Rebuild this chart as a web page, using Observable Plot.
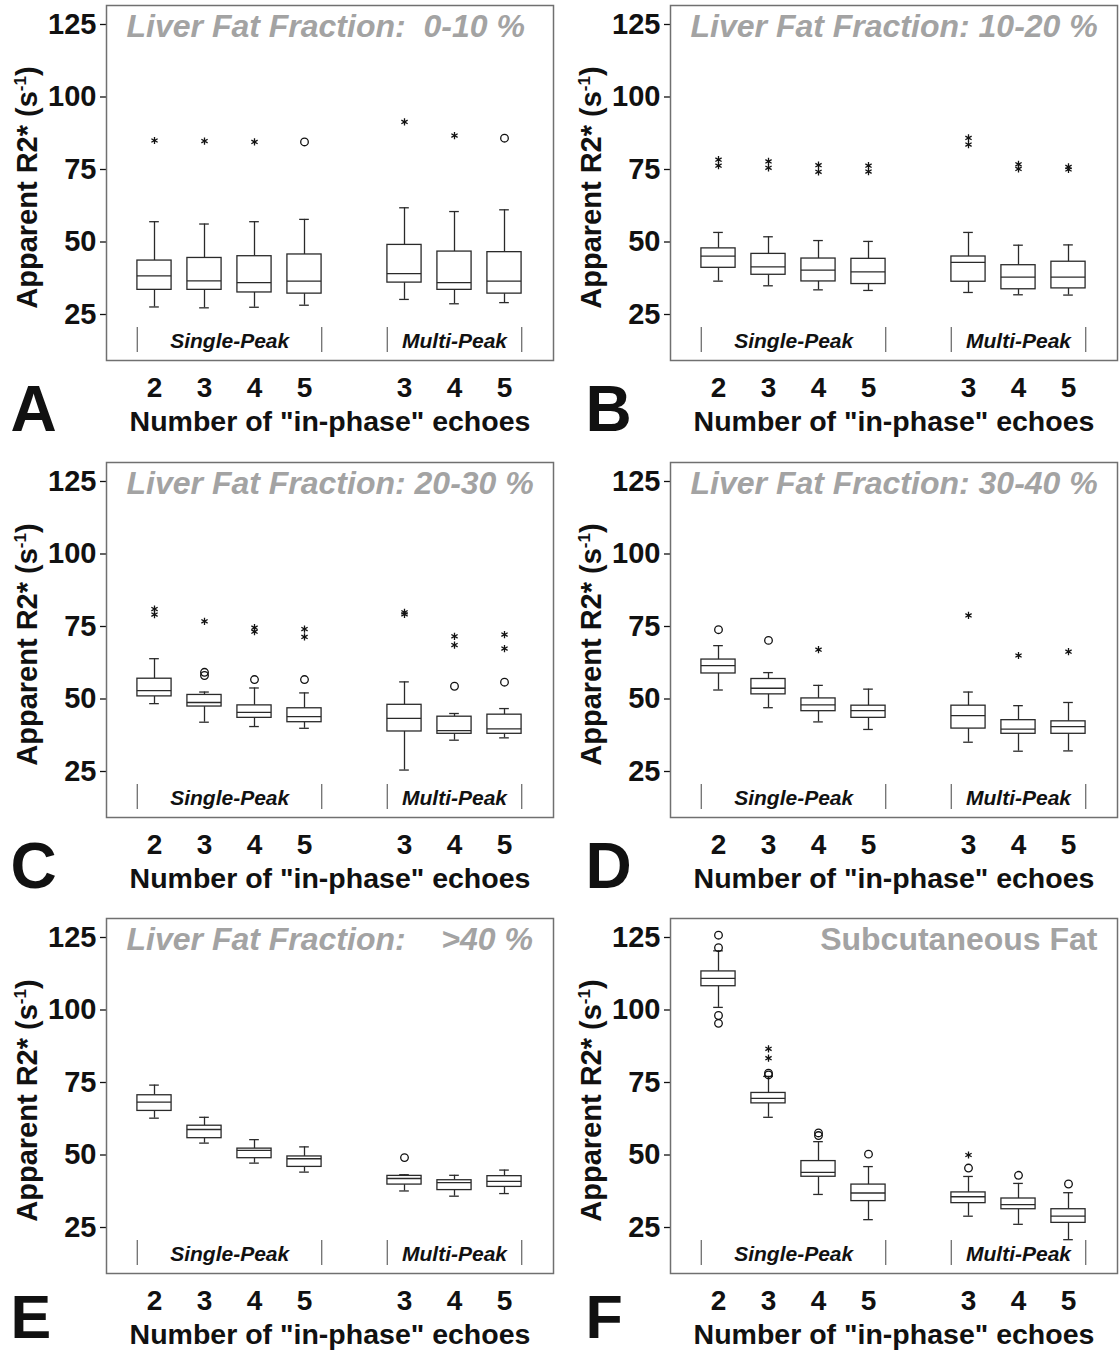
<!DOCTYPE html>
<html><head><meta charset="utf-8">
<script src="https://cdn.jsdelivr.net/npm/d3@7"></script>
<script src="https://cdn.jsdelivr.net/npm/@observablehq/plot@0.6"></script>
<style>
html,body{margin:0;padding:0;background:#fff;overflow:hidden;}
#root{position:relative;width:1120px;height:1353px;background:#fff;}
.panel{position:absolute;}
svg text{white-space:pre;}
</style></head><body><div id="root"></div>
<script>
// ---- categories & labels ----
const groups = ["SP2","SP3","SP4","SP5","gap","MP3","MP4","MP5"];
const boxGroups = ["SP2","SP3","SP4","SP5","MP3","MP4","MP5"];
const tickLabels = ["2","3","4","5","3","4","5"];
const peakNames = ["Single-Peak","Multi-Peak"];
const peakMembers = [["SP2","SP3","SP4","SP5"],["MP3","MP4","MP5"]];
const yTicks = [25,50,75,100,125];
const panelLetters = ["A","B","C","D","E","F"];
const panelTitles = ["Liver Fat Fraction:  0-10 %","Liver Fat Fraction: 10-20 %","Liver Fat Fraction: 20-30 %","Liver Fat Fraction: 30-40 %","Liver Fat Fraction:    >40 %","Subcutaneous Fat"];
const xLabel = "Number of \"in-phase\" echoes";
const yLabel = "Apparent R2* (s";
const yLabelSup = "-1";

// ---- box statistics: [lower whisker, Q1, median, Q3, upper whisker] per boxGroup ----
const boxA = [[27.6,33.5,38.3,43.6,57.0],[27.3,33.5,36.6,44.5,56.2],[27.5,32.6,36.0,45.1,57.0],[28.2,32.2,36.5,45.7,57.8],[30.2,36.0,39.1,49.0,61.8],[28.7,33.5,36.0,46.7,60.5],[29.1,32.2,36.5,46.5,61.1]];
const starsA = [["SP2",85.0],["SP3",84.8],["SP4",84.5],["MP3",91.4],["MP4",86.7]];
const circlesA = [["SP5",84.5],["MP5",85.8]];

const boxB = [[36.5,41.1,45.1,47.8,53.3],[34.9,38.7,41.4,45.9,51.8],[33.5,36.4,40.3,44.3,50.5],[33.3,35.5,39.7,44.2,50.2],[32.6,36.3,43.0,45.0,53.3],[31.8,33.7,37.9,42.0,48.9],[31.7,34.0,37.9,43.2,49.0]];
const starsB = [["SP2",78.4],["SP2",76.3],["SP3",77.8],["SP3",75.6],["SP4",76.5],["SP4",74.2],["SP5",76.3],["SP5",74.3],["MP3",85.9],["MP3",83.6],["MP4",76.8],["MP4",75.2],["MP5",75.9],["MP5",75.0]];
const circlesB = [];

const boxC = [[48.4,50.9,52.9,57.0,63.9],[42.0,47.4,48.8,51.4,52.4],[40.5,43.5,45.4,47.8,53.8],[39.9,42.0,43.9,46.8,52.1],[25.5,38.8,43.3,48.0,55.9],[35.8,38.0,39.1,43.9,45.0],[36.6,38.0,39.7,44.6,46.7]];
const starsC = [["SP2",81.0],["SP2",79.1],["SP3",76.8],["SP4",74.6],["SP4",73.2],["SP5",74.1],["SP5",71.4],["MP3",79.9],["MP3",79.2],["MP4",71.6],["MP4",68.6],["MP5",72.2],["MP5",67.4]];
const circlesC = [["SP3",59.2],["SP3",58.1],["SP4",56.7],["SP5",56.7],["MP4",54.4],["MP5",55.8]];

const boxD = [[53.1,58.8,61.5,63.6,68.4],[47.0,51.6,53.7,56.9,59.1],[42.1,45.8,48.0,50.2,54.7],[39.5,43.5,46.0,47.7,53.4],[35.1,39.8,44.3,47.7,52.4],[32.0,38.0,39.6,42.7,47.7],[32.1,38.0,40.5,42.3,48.8]];
const starsD = [["SP4",67.0],["MP3",78.8],["MP4",65.0],["MP5",66.3]];
const circlesD = [["SP2",73.9],["SP3",70.2]];

const boxE = [[62.7,65.2,68.2,70.6,74.1],[54.1,55.8,58.8,60.1,63.0],[47.2,48.9,51.6,52.2,55.3],[44.1,45.9,48.7,49.5,52.8],[37.6,39.8,41.9,42.8,43.2],[35.8,37.9,40.5,41.3,43.0],[36.7,39.0,40.9,42.7,44.8]];
const starsE = [];
const circlesE = [["MP3",49.1]];

const boxF = [[100.9,108.2,110.9,113.3,120.4],[63.0,67.8,69.5,71.4,77.1],[36.4,42.5,44.0,47.9,54.6],[27.7,34.1,36.9,39.8,46.0],[28.9,33.4,35.6,37.1,42.6],[26.1,31.3,32.9,35.0,40.2],[20.8,26.6,28.9,31.3,37.0]];
const starsF = [["SP3",86.6],["SP3",83.4],["MP3",50.0]];
const circlesF = [["SP2",125.8],["SP2",121.5],["SP2",98.1],["SP2",95.4],["SP3",78.2],["SP3",77.6],["SP4",57.6],["SP4",56.7],["SP5",50.3],["MP3",45.5],["MP4",43.0],["MP5",40.0]];

const panelBoxes = [boxA, boxB, boxC, boxD, boxE, boxF];
const panelStars = [starsA, starsB, starsC, starsD, starsE, starsF];
const panelCircles = [circlesA, circlesB, circlesC, circlesD, circlesE, circlesF];

// ---- drawing ----
const FONT = "'Liberation Sans', Arial, Helvetica, sans-serif";
const INK = "#111";
const BOX = "#2a2a2a";
const GRAYTXT = "#a3a3a3";
const root = document.getElementById("root");

function drawPanel(i) {
  const col = i % 2, row = Math.floor(i / 2);
  const top = Math.round(row * 456.5);
  const W = 560, H = row === 2 ? 1353 - top : 457;
  const mL = col ? 110 : 106, mR = col ? 3 : 7, mT = 5, frameH = 355;
  const mB = H - mT - frameH;
  const padOuter = 0.44;
  const step = (W - mL - mR) / (groups.length + 2 * padOuter);
  const boxW = 34.5, capW = 10;
  const boxInset = (step - boxW) / 2, capInset = (step - capW) / 2;

  const stats = boxGroups.map((g, k) => {
    const [lo, q1, med, q3, hi] = panelBoxes[i][k];
    return {g, lo, q1, med, q3, hi};
  });
  const stars = panelStars[i].map(([g, v]) => ({g, v}));
  const circles = panelCircles[i].map(([g, v]) => ({g, v}));
  const firsts = peakMembers.map(m => m[0]);
  const lasts = peakMembers.map(m => m[m.length - 1]);
  const evenLabels = [], oddLabels = [];
  peakMembers.forEach((m, k) => {
    const mid = (m.length - 1) / 2;
    if (Number.isInteger(mid)) oddLabels.push({g: m[mid], t: peakNames[k]});
    else evenLabels.push({g: m[Math.floor(mid)], t: peakNames[k]});
  });
  const isLiver = i < 5;
  const lastRow = row === 2;
  const groupText = {frameAnchor: "bottom", lineAnchor: "middle", dy: -19.5, fontSize: 21, fontWeight: "bold", fontStyle: "italic", fill: INK};

  const svg = Plot.plot({
    width: W, height: H,
    marginLeft: mL, marginRight: mR, marginTop: mT, marginBottom: mB,
    style: {fontFamily: FONT, background: "white", color: INK, overflow: "visible"},
    x: {type: "band", domain: groups, paddingInner: 0, paddingOuter: padOuter, align: 0.49},
    y: {type: "linear", domain: [9.14, 131.55]},
    marks: [
      Plot.axisY({ticks: yTicks, tickSize: 6, tickPadding: 4, fontSize: 29, fontWeight: "bold", label: null, strokeWidth: 1.3}),
      Plot.axisX({ticks: boxGroups, tickSize: 0, tickPadding: 17, fontSize: 28, fontWeight: "bold", label: null,
        tickFormat: d => tickLabels[boxGroups.indexOf(d)]}),
      // group brackets & labels
      Plot.ruleX(firsts, {x: d => d, dx: -boxW / 2, insetTop: 322, insetBottom: 8, stroke: "#555", strokeWidth: 1.1}),
      Plot.ruleX(lasts, {x: d => d, dx: boxW / 2, insetTop: 322, insetBottom: 8, stroke: "#555", strokeWidth: 1.1}),
      Plot.text(evenLabels, {x: "g", text: "t", dx: step / 2, ...groupText}),
      Plot.text(oddLabels, {x: "g", text: "t", ...groupText}),
      // whiskers
      Plot.ruleX(stats, {x: "g", y1: "lo", y2: "q1", stroke: BOX, strokeWidth: 1.3}),
      Plot.ruleX(stats, {x: "g", y1: "q3", y2: "hi", stroke: BOX, strokeWidth: 1.3}),
      Plot.tickY(stats, {x: "g", y: "lo", insetLeft: capInset, insetRight: capInset, stroke: BOX, strokeWidth: 1.3}),
      Plot.tickY(stats, {x: "g", y: "hi", insetLeft: capInset, insetRight: capInset, stroke: BOX, strokeWidth: 1.3}),
      // boxes
      Plot.barY(stats, {x: "g", y1: "q1", y2: "q3", fill: "white", stroke: BOX, strokeWidth: 1.3, insetLeft: boxInset, insetRight: boxInset}),
      Plot.tickY(stats, {x: "g", y: "med", insetLeft: boxInset, insetRight: boxInset, stroke: BOX, strokeWidth: 1.3}),
      // outliers (o) and extremes (*)
      Plot.dot(circles, {x: "g", y: "v", r: 3.8, stroke: INK, fill: "none", strokeWidth: 1.3}),
      Plot.dot(stars, {x: "g", y: "v", symbol: "asterisk", r: 3.4, stroke: INK, fill: "none", strokeWidth: 1.3}),
      // frame
      Plot.frame({stroke: "#707070", strokeWidth: 1.5}),
      // title
      isLiver
        ? Plot.text([panelTitles[i]], {text: d => d, frameAnchor: "top-left", lineAnchor: "middle", textAnchor: "start", dx: 20, dy: 21, fontSize: 32, fontWeight: "bold", fontStyle: "italic", fill: GRAYTXT})
        : Plot.text([panelTitles[i]], {text: d => d, frameAnchor: "top-right", lineAnchor: "middle", textAnchor: "end", dx: -20, dy: 21, fontSize: 32, fontWeight: "bold", fill: GRAYTXT}),
      // x label and panel letter
      Plot.text([xLabel], {text: d => d, frameAnchor: "bottom", lineAnchor: "middle", dy: 61, fontSize: 28.5, fontWeight: "bold", fill: INK}),
      Plot.text([panelLetters[i]], {text: d => d, frameAnchor: "bottom-left", lineAnchor: "middle", textAnchor: "start",
        dx: col ? -85 : -96, dy: lastRow ? 45 : 50, fontSize: lastRow ? 61 : 64, fontWeight: "bold", fill: INK})
    ]
  });

  // y-axis label with superscript
  const t = d3.select(svg).append("text")
    .attr("transform", `translate(${mL - 69},${mT + 182.5}) rotate(-90)`)
    .attr("text-anchor", "middle")
    .attr("fill", INK)
    .style("font-family", FONT).style("font-size", "29px").style("font-weight", "bold");
  t.append("tspan").text(yLabel);
  t.append("tspan").attr("dy", -11).style("font-size", "17px").text(yLabelSup);
  t.append("tspan").attr("dy", 11).text(")");

  const div = document.createElement("div");
  div.className = "panel";
  div.style.left = (col * 560) + "px";
  div.style.top = top + "px";
  div.appendChild(svg);
  root.appendChild(div);
}

for (let i = 0; i < 6; i++) drawPanel(i);
</script></body></html>
